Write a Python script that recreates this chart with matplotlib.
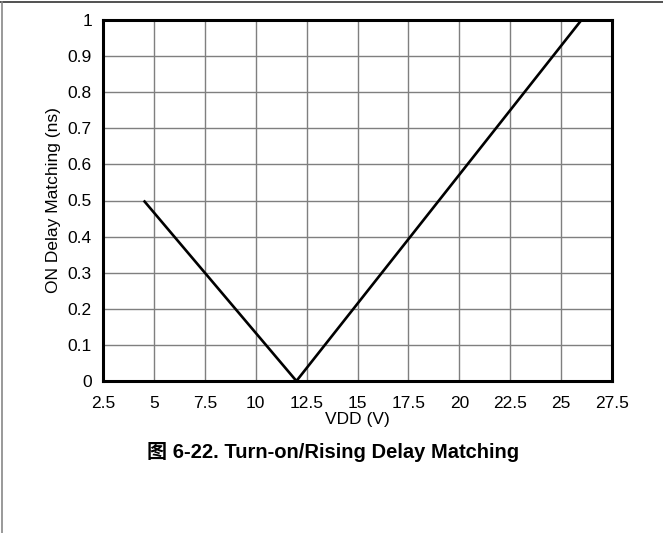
import matplotlib
matplotlib.use("Agg")
import matplotlib.pyplot as plt
from matplotlib.lines import Line2D

# data
vdd = [4.5, 12.0, 26.0]
delay_match = [0.5, 0.0, 1.0]

x_ticks = [2.5, 5, 7.5, 10, 12.5, 15, 17.5, 20, 22.5, 25, 27.5]
x_labels = ["2.5", "5", "7.5", "10", "12.5", "15", "17.5", "20", "22.5", "25", "27.5"]
y_ticks = [0, 0.1, 0.2, 0.3, 0.4, 0.5, 0.6, 0.7, 0.8, 0.9, 1]
y_labels = ["0", "0.1", "0.2", "0.3", "0.4", "0.5", "0.6", "0.7", "0.8", "0.9", "1"]

plt.rcParams['font.family'] = ['Liberation Sans', 'Noto Sans CJK SC']

fig = plt.figure(figsize=(6.63, 5.33), dpi=100)
ax = fig.add_axes([103 / 663, 152 / 533, 509 / 663, 361 / 533])

ax.plot(vdd, delay_match, color='black', linewidth=1.9, solid_capstyle='butt')

ax.set_xlim(2.5, 27.5)
ax.set_ylim(0, 1)
ax.set_xticks(x_ticks)
ax.set_xticklabels(x_labels)
ax.set_yticks(y_ticks)
ax.set_yticklabels(y_labels)
ax.tick_params(length=0, labelsize=12.5, colors='black')
ax.tick_params(axis='x', pad=10.5)
ax.tick_params(axis='y', pad=8)
ax.grid(True, color='#7f7f7f', linewidth=1.0)
ax.set_axisbelow(True)
for sp in ax.spines.values():
    sp.set_linewidth(2.2)
    sp.set_color('black')

ax.set_xlabel('VDD (V)', fontsize=12.5, labelpad=1)
ax.set_ylabel('ON Delay Matching (ns)', fontsize=12.5, labelpad=5)

fig.text(333 / 663, 1 - 458 / 533, '图 6-22. Turn-on/Rising Delay Matching',
         ha='center', va='baseline', fontsize=14.5, fontweight='bold')

# page frame (top and left edges only)
fig.add_artist(Line2D([0, 1], [1 - 2 / 533, 1 - 2 / 533], transform=fig.transFigure,
                      color='#333333', linewidth=1.2))
fig.add_artist(Line2D([1.5 / 663, 1.5 / 663], [0, 1 - 2 / 533], transform=fig.transFigure,
                      color='#888888', linewidth=1.2))

fig.savefig('out.png', dpi=100)
